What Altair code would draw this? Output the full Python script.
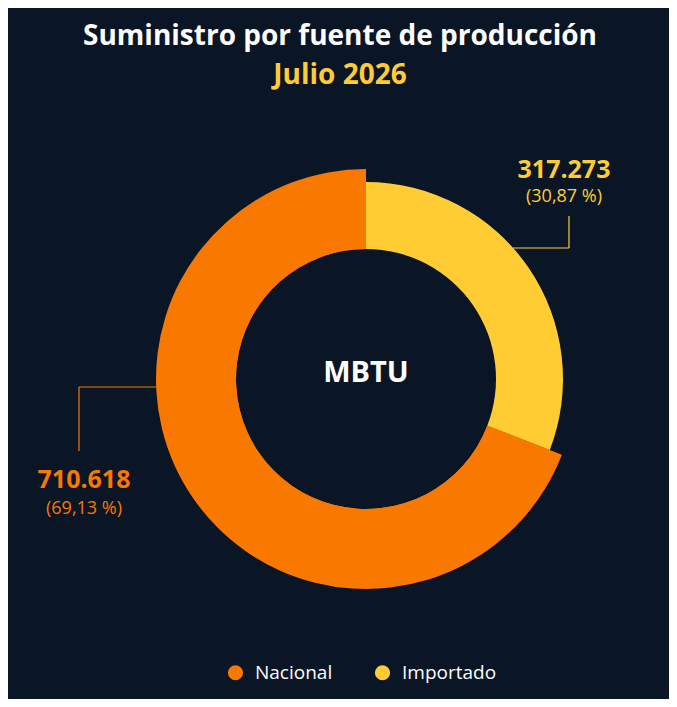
import altair as alt
import pandas as pd

# ---- data ----
fuentes = ["Nacional", "Importado"]
valores = [710618, 317273]
orden_pila = [1, 0]          # Importado drawn first from 12 o'clock
colores = ["#F97800", "#FFCD33"]
titulo = "Suministro por fuente de producción"
subtitulo = "Julio 2026"
centro = "MBTU"

total = sum(valores)
etiquetas = [f"{v:,}".replace(",", ".") for v in valores]
porcentajes = ["(" + f"{v / total * 100:.2f}".replace(".", ",") + " %)" for v in valores]

df = pd.DataFrame({
    "Fuente": fuentes,
    "MBTU": valores,
    "orden": orden_pila,
    "etiqueta": etiquetas,
    "pct": porcentajes,
})

BG = "#0A1526"
FONT = "Open Sans"
CX, CY = 358, 371

color_scale = alt.Scale(domain=fuentes, range=colores)

base = alt.Chart(df)

arc_small = base.mark_arc(innerRadius=130, outerRadius=197).encode(
    theta=alt.Theta("MBTU:Q", stack=True),
    order=alt.Order("orden:Q", sort="ascending"),
    color=alt.Color(
        "Fuente:N",
        scale=color_scale,
        sort=fuentes,
        legend=alt.Legend(
            title=None,
            orient="none",
            direction="horizontal",
            legendX=218,
            legendY=655,
            symbolType="circle",
            symbolSize=230,
            symbolStrokeWidth=0,
            labelFont=FONT,
            labelFontSize=19,
            labelColor="#FFFFFF",
            labelOffset=10,
            columnPadding=40,
        ),
    ),
    x=alt.value(CX),
    y=alt.value(CY),
)

arc_big = base.mark_arc(innerRadius=130, outerRadius=210).encode(
    theta=alt.Theta("MBTU:Q", stack=True),
    order=alt.Order("orden:Q", sort="ascending"),
    color=alt.Color("Fuente:N", scale=color_scale, sort=fuentes, legend=None),
    opacity=alt.condition(alt.datum.Fuente == "Nacional", alt.value(1), alt.value(0)),
    x=alt.value(CX),
    y=alt.value(CY),
)

def txt(text, x, y, size, color, weight="bold"):
    return alt.Chart(pd.DataFrame({"t": [text]})).mark_text(
        font=FONT, fontSize=size, fontWeight=weight, color=color,
        align="center", baseline="alphabetic",
    ).encode(text="t:N", x=alt.value(x), y=alt.value(y))

def label_layer(fuente, field, x, y, size, color, weight):
    return base.transform_filter(alt.datum.Fuente == fuente).mark_text(
        font=FONT, fontSize=size, fontWeight=weight, color=color,
        align="center", baseline="alphabetic",
    ).encode(text=f"{field}:N", x=alt.value(x), y=alt.value(y))

def rule(x, y, x2, y2, color):
    return alt.Chart(pd.DataFrame({"a": [0]})).mark_rule(
        color=color, strokeWidth=1.2
    ).encode(x=alt.value(x), y=alt.value(y), x2=alt.value(x2), y2=alt.value(y2))

layers = [
    arc_small,
    arc_big,
    txt(titulo, 332, 37, 28, "#FFFFFF"),
    txt(subtitulo, 332, 75.5, 28, colores[1]),
    txt(centro, 358, 374, 29, "#FFFFFF"),
    # Importado callout
    rule(505, 240, 561, 240, colores[1]),
    rule(561, 240, 561, 208, colores[1]),
    label_layer("Importado", "etiqueta", 556, 170, 25, colores[1], "bold"),
    label_layer("Importado", "pct", 556, 194, 18, colores[1], "normal"),
    # Nacional callout
    rule(149, 379, 71, 379, colores[0]),
    rule(71, 379, 71, 443, colores[0]),
    label_layer("Nacional", "etiqueta", 76, 480, 25, colores[0], "bold"),
    label_layer("Nacional", "pct", 76, 506, 18, colores[0], "normal"),
]

chart = alt.layer(*layers).properties(
    width=661,
    height=691,
    background=BG,
    padding=0,
    autosize=alt.AutoSizeParams(type="none"),
).configure_view(strokeWidth=0)

chart.save("out.html", embed_options={"renderer": "svg", "actions": False})
